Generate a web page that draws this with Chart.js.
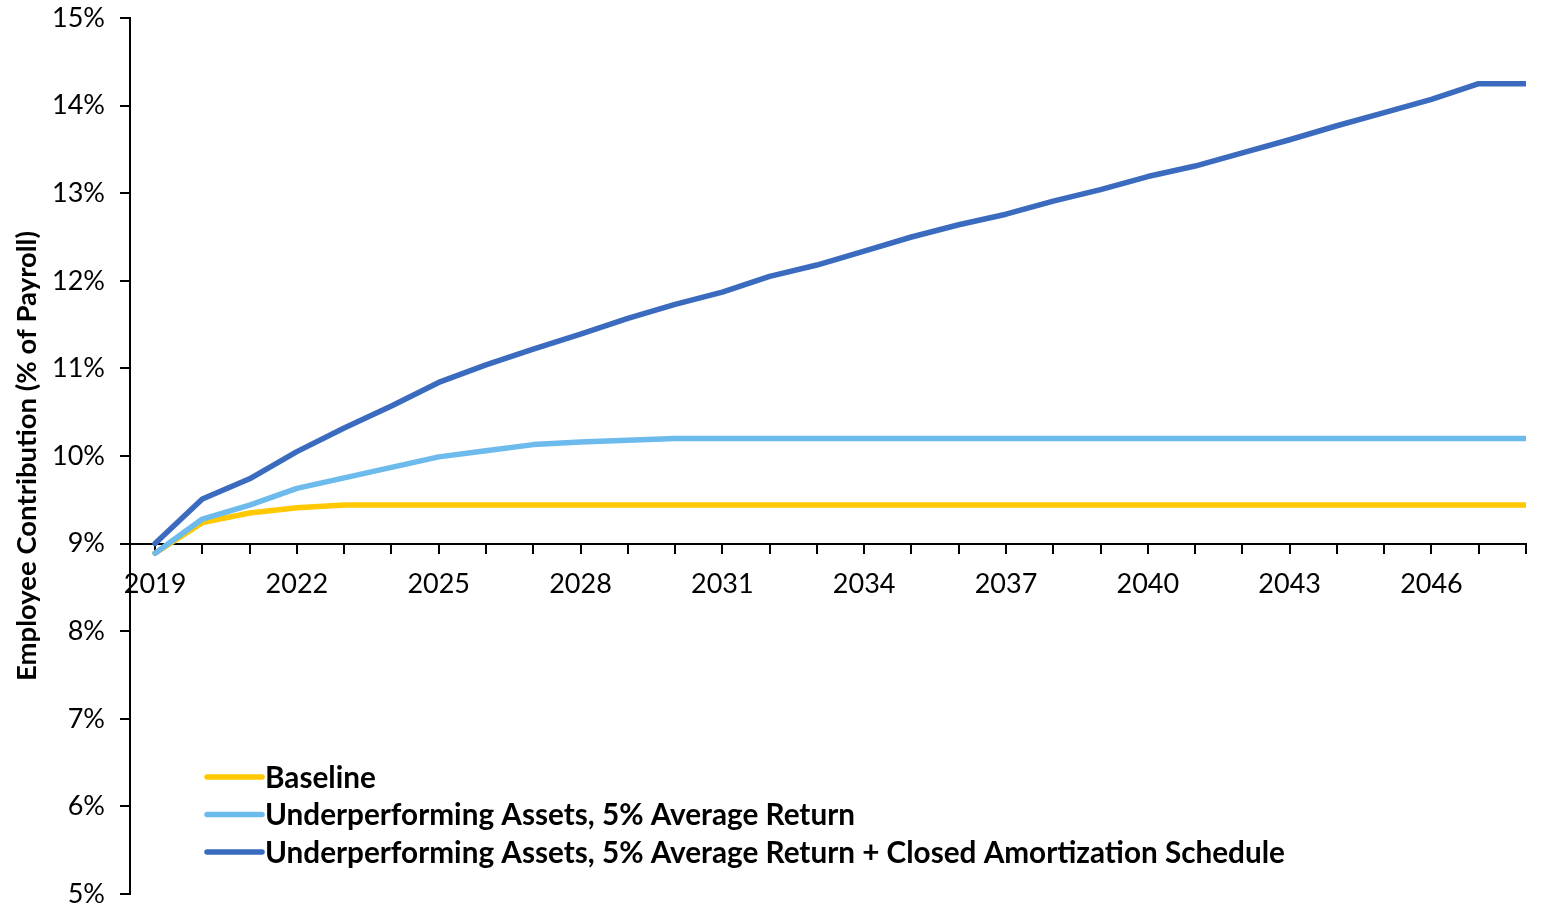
<!DOCTYPE html>
<html>
<head>
<meta charset="utf-8">
<script src="https://cdn.jsdelivr.net/npm/chart.js@4/dist/chart.umd.min.js"></script>
<style>
  html, body { margin: 0; padding: 0; background: #fff; }
  #wrap { width: 1544px; height: 909px; }
</style>
</head>
<body>
<div id="wrap"><canvas id="contribChart"></canvas></div>
<script>
// Employee contribution projections, % of payroll
const years = [2019, 2020, 2021, 2022, 2023, 2024, 2025, 2026, 2027, 2028,
               2029, 2030, 2031, 2032, 2033, 2034, 2035, 2036, 2037, 2038,
               2039, 2040, 2041, 2042, 2043, 2044, 2045, 2046, 2047, 2048];

const baseline = [8.89, 9.24, 9.35, 9.41, 9.44, 9.44, 9.44, 9.44, 9.44, 9.44,
                  9.44, 9.44, 9.44, 9.44, 9.44, 9.44, 9.44, 9.44, 9.44, 9.44,
                  9.44, 9.44, 9.44, 9.44, 9.44, 9.44, 9.44, 9.44, 9.44, 9.44];

const underperforming = [8.89, 9.28, 9.44, 9.63, 9.75, 9.87, 9.99, 10.06, 10.13, 10.16,
                         10.18, 10.2, 10.2, 10.2, 10.2, 10.2, 10.2, 10.2, 10.2, 10.2,
                         10.2, 10.2, 10.2, 10.2, 10.2, 10.2, 10.2, 10.2, 10.2, 10.2];

const closedAmort = [9.0, 9.51, 9.74, 10.05, 10.32, 10.57, 10.84, 11.04, 11.22, 11.39,
                     11.57, 11.73, 11.87, 12.05, 12.18, 12.34, 12.5, 12.64, 12.76, 12.91,
                     13.04, 13.19, 13.31, 13.46, 13.61, 13.77, 13.92, 14.07, 14.25, 14.25];

const seriesLabels = [
  'Baseline',
  'Underperforming Assets, 5% Average Return',
  'Underperforming Assets, 5% Average Return + Closed Amortization Schedule'
];

const yTicks = [5, 6, 7, 8, 9, 10, 11, 12, 13, 14, 15];

const FONT = 'Lato, "Open Sans", sans-serif';
const LINE_W = 5.5;

function toPoints(values) {
  return years.map((yr, i) => ({ x: yr, y: values[i] }));
}

// keep tick-label overhang from pushing the plot area inwards
function noOverhang(scale) {
  scale.paddingTop = 0;
  scale.paddingBottom = 0;
  scale.paddingLeft = 0;
  scale.paddingRight = 0;
}

// legend drawn inside the plot, bottom left
const insideLegend = {
  id: 'insideLegend',
  afterDraw(chart) {
    const ctx = chart.ctx;
    const area = chart.chartArea;
    const x0 = area.left + 77;
    const top = area.top + 759;
    ctx.save();
    ctx.font = 'bold 29.7px ' + FONT;
    ctx.textBaseline = 'middle';
    chart.data.datasets.forEach((ds, i) => {
      const y = top + i * 37.5;
      ctx.strokeStyle = ds.borderColor;
      ctx.lineWidth = LINE_W;
      ctx.lineCap = 'round';
      ctx.beginPath();
      ctx.moveTo(x0, y);
      ctx.lineTo(x0 + 55, y);
      ctx.stroke();
      ctx.fillStyle = '#000';
      ctx.fillText(ds.label, x0 + 58, y + 1);
    });
    ctx.restore();
  }
};

new Chart(document.getElementById('contribChart'), {
  type: 'line',
  data: {
    datasets: [
      { label: seriesLabels[0], data: toPoints(baseline), borderColor: '#FFC800', order: 3 },
      { label: seriesLabels[1], data: toPoints(underperforming), borderColor: '#6CBBEC', order: 2 },
      { label: seriesLabels[2], data: toPoints(closedAmort), borderColor: '#3A6BBF', order: 1 }
    ]
  },
  options: {
    responsive: true,
    maintainAspectRatio: false,
    animation: false,
    layout: { padding: { top: 18, right: 18, bottom: 15, left: 0 } },
    elements: {
      line: { borderWidth: LINE_W, tension: 0, borderCapStyle: 'round', borderJoinStyle: 'round', fill: false },
      point: { radius: 0, hoverRadius: 0 }
    },
    plugins: {
      legend: { display: false },
      tooltip: { enabled: false }
    },
    scales: {
      x: {
        type: 'linear',
        position: { y: 9 },
        min: 2018.47,
        max: 2048,
        afterFit(scale) { scale.height = 0; noOverhang(scale); },
        border: { color: '#000', width: 2 },
        grid: { drawOnChartArea: false, drawTicks: true, tickLength: 9, color: '#000', lineWidth: 2 },
        ticks: {
          stepSize: 1,
          includeBounds: false,
          autoSkip: false,
          maxRotation: 0,
          padding: 15,
          color: '#000',
          font: { family: FONT, size: 27 },
          callback: v => ((v - years[0]) % 3 === 0 ? String(v) : '')
        }
      },
      y: {
        min: yTicks[0],
        max: yTicks[yTicks.length - 1],
        afterFit(scale) { scale.width = 130; noOverhang(scale); },
        afterBuildTicks(scale) { scale.ticks = yTicks.map(v => ({ value: v })); },
        border: { color: '#000', width: 2 },
        grid: { drawOnChartArea: false, drawTicks: true, tickLength: 10, color: '#000', lineWidth: 2 },
        ticks: {
          padding: 15,
          color: '#000',
          font: { family: FONT, size: 27 },
          callback: v => v + '%'
        },
        title: {
          display: true,
          text: 'Employee Contribution (% of Payroll)',
          color: '#000',
          font: { family: FONT, size: 27.5, weight: 'bold' },
          padding: { top: 11, bottom: 0 }
        }
      }
    }
  },
  plugins: [insideLegend]
});
</script>
</body>
</html>
